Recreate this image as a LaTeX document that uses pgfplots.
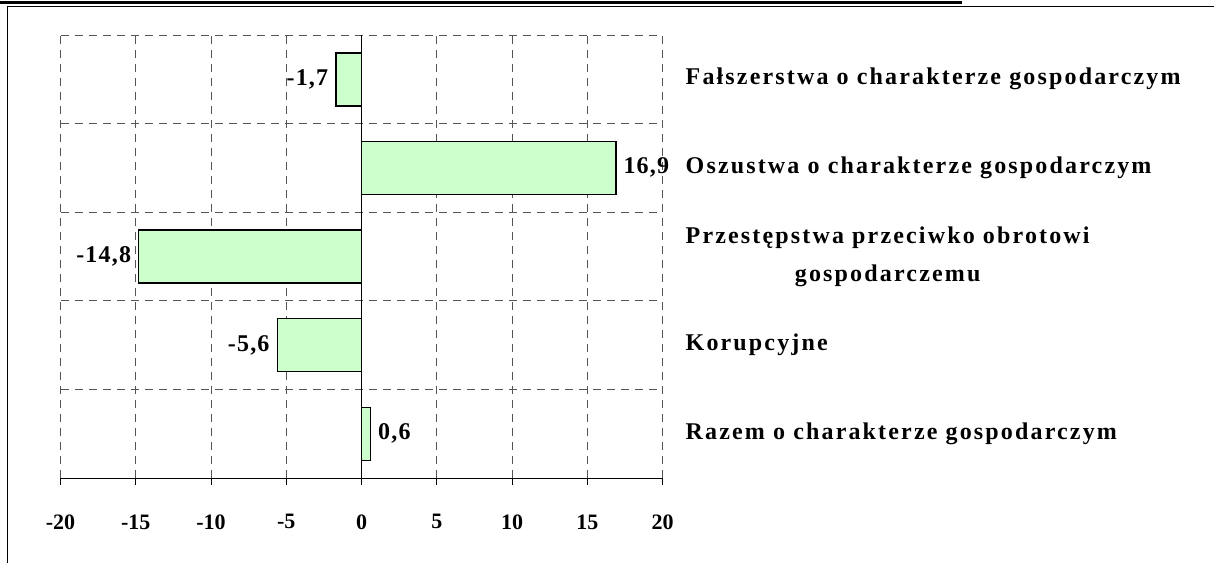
\documentclass[border=0pt]{standalone}
\usepackage{fontspec}
\setmainfont{Liberation Serif}
\newfontfamily\catfont[LetterSpace=9]{Liberation Serif}
\newfontfamily\valfont[LetterSpace=5]{Liberation Serif}
\usepackage{pgfplots}
\pgfplotsset{compat=1.18}
\definecolor{barfill}{HTML}{CCFFCC}
\definecolor{gridc}{HTML}{555555}
\begin{document}
\begin{tikzpicture}[x=1pt,y=1pt]
\useasboundingbox (0,0) rectangle (1214,563);
\draw[line width=1pt] (7.5,0) -- (7.5,556) -- (1214,556);
\draw[line width=3pt] (0,560.5) -- (962,560.5);
\begin{axis}[
  at={(60.5pt,85pt)}, anchor=south west,
  scale only axis, width=602pt, height=443pt,
  xmin=-20, xmax=20, ymin=0.5, ymax=5.5,
  /pgf/number format/assume math mode=true,
  axis x line*=bottom, axis y line*=left,
  x axis line style={black, line width=0.8pt},
  y axis line style={draw=none},
  xtick={-20,-15,...,20},
  xticklabels={-20,-15,-10,-5,0,5,10,15,20},
  tick align=outside, major tick length=7pt,
  xtick style={black, line width=0.8pt},
  xticklabel style={font=\fontsize{22}{26}\selectfont\bfseries, yshift=-26pt},
  xmajorgrids,
  extra x ticks={0}, extra x tick labels={},
  extra x tick style={grid style={solid, black, line width=0.8pt}, major tick length=0pt},
  ytick={1.5,2.5,3.5,4.5,5.5}, yticklabels={}, ytick style={draw=none},
  ymajorgrids,
  grid style={dashed, gridc, line width=0.8pt, dash pattern=on 8pt off 6pt},
  clip=false,
]
\addplot[xbar, bar width=53pt, fill=barfill, draw=black, line width=1.4pt,
  nodes near coords={\pgfmathprintnumber[fixed, fixed zerofill, precision=1, use comma]{\pgfplotspointmeta}},
  nodes near coords align=horizontal,
  every node near coord/.append style={font=\valfont\fontsize{24}{28}\selectfont\bfseries, inner sep=7pt, black},
  point meta=x]
  coordinates {(-1.7,5) (16.9,4) (-14.8,3) (-5.6,2) (0.6,1)};
\node[anchor=west, align=center, inner sep=0pt, xshift=23pt, font=\catfont\fontsize{24}{38}\selectfont\bfseries] at (axis cs:20,5) {Fałszerstwa o charakterze gospodarczym};
\node[anchor=west, align=center, inner sep=0pt, xshift=23pt, font=\catfont\fontsize{24}{38}\selectfont\bfseries] at (axis cs:20,4) {Oszustwa o charakterze gospodarczym};
\node[anchor=west, align=center, inner sep=0pt, xshift=23pt, font=\catfont\fontsize{24}{38}\selectfont\bfseries] at (axis cs:20,3) {Przestępstwa przeciwko obrotowi\\gospodarczemu};
\node[anchor=west, align=center, inner sep=0pt, xshift=23pt, font=\catfont\fontsize{24}{38}\selectfont\bfseries] at (axis cs:20,2) {Korupcyjne};
\node[anchor=west, align=center, inner sep=0pt, xshift=23pt, font=\catfont\fontsize{24}{38}\selectfont\bfseries] at (axis cs:20,1) {Razem o charakterze gospodarczym};
\end{axis}
\end{tikzpicture}
\end{document}
